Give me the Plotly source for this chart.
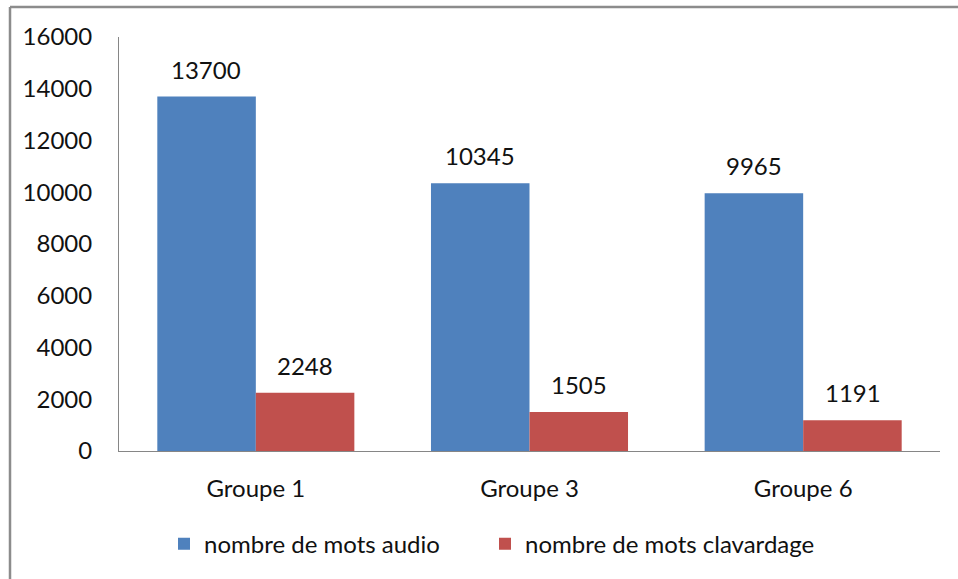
import plotly.graph_objects as go

# Word counts per group
groups = ["Groupe 1", "Groupe 3", "Groupe 6"]
audio_words = [13700, 10345, 9965]
chat_words = [2248, 1505, 1191]
series_names = ["nombre de mots audio", "nombre de mots clavardage"]
y_ticks = [0, 2000, 4000, 6000, 8000, 10000, 12000, 14000, 16000]
y_tick_text = [str(v) for v in y_ticks]

BLUE = "#4F81BD"
RED = "#C0504D"
FONT = "Lato"
FS = 24

W, H = 958, 579
ML, MR, MT, MB = 119, 18, 37, 128
pw = W - ML - MR
ph = H - MT - MB

fig = go.Figure()
fig.add_trace(go.Bar(x=groups, y=audio_words, name=series_names[0],
                     legend="legend",
                     marker=dict(color=BLUE, line=dict(width=0))))
fig.add_trace(go.Bar(x=groups, y=chat_words, name=series_names[1],
                     legend="legend2",
                     marker=dict(color=RED, line=dict(width=0))))

# Value labels above each bar
bar_half = 49.5
for vals, shift in ((audio_words, -bar_half), (chat_words, bar_half)):
    for g, v in zip(groups, vals):
        fig.add_annotation(x=g, y=v, text=str(v), showarrow=False,
                           xshift=shift, yshift=11, yanchor="bottom",
                           font=dict(family=FONT, size=FS, color="#111111"))

# Outer chart frame (top and left edges)
x_left = (10 - ML) / pw
y_top = (ph + MT - 7) / ph
frame = dict(color="#8c8c8c", width=2.5)
fig.add_shape(type="line", xref="paper", yref="paper",
              x0=x_left, x1=(W + 5 - ML) / pw, y0=y_top, y1=y_top, line=frame)
fig.add_shape(type="line", xref="paper", yref="paper",
              x0=x_left, x1=x_left, y0=y_top, y1=-(MB + 5) / ph, line=frame)

legend_common = dict(orientation="h", xanchor="left", y=-0.225,
                     yanchor="middle", font=dict(family=FONT, size=FS),
                     itemwidth=30, bgcolor="rgba(0,0,0,0)")

fig.update_layout(
    width=W, height=H,
    margin=dict(l=ML, r=MR, t=MT, b=MB),
    paper_bgcolor="white", plot_bgcolor="white",
    barmode="group", bargap=0.28, bargroupgap=0,
    font=dict(family=FONT, size=FS, color="#111111"),
    showlegend=True,
    legend=dict(x=(164 - ML) / pw, **legend_common),
    legend2=dict(x=(485 - ML) / pw, **legend_common),
    xaxis=dict(showline=True, linecolor="#868686", linewidth=1,
               ticks="", showgrid=False, ticklabelstandoff=16,
               tickfont=dict(family=FONT, size=FS)),
    yaxis=dict(range=[0, 16000], tickvals=y_ticks, ticktext=y_tick_text,
               showline=True, linecolor="#868686", linewidth=1, ticks="",
               showgrid=False, zeroline=False, ticklabelstandoff=21,
               tickfont=dict(family=FONT, size=FS)),
)

fig.write_html("out.html")
